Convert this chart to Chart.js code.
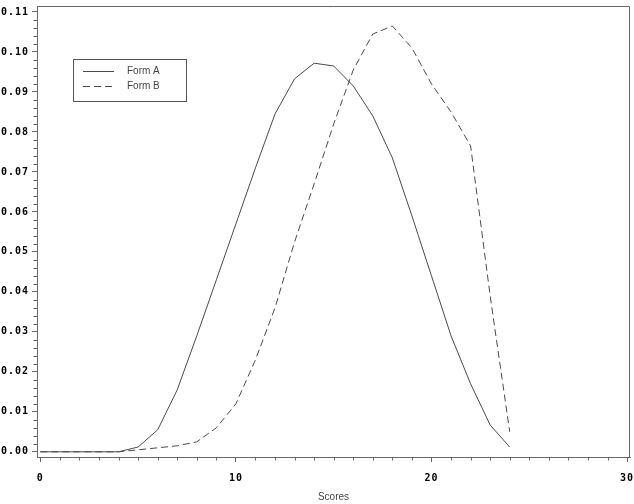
<!DOCTYPE html>
<html>
<head>
<meta charset="utf-8">
<script src="https://cdn.jsdelivr.net/npm/chart.js@4.4.0/dist/chart.umd.min.js"></script>
<style>
html,body{margin:0;padding:0;background:#fff;}
#wrap{width:634px;height:504px;}
</style>
</head>
<body>
<div id="wrap"><canvas id="c" width="634" height="504"></canvas></div>
<script>
const scores = [0,1,2,3,4,5,6,7,8,9,10,11,12,13,14,15,16,17,18,19,20,21,22,23,24];
const formA = [0,0,0,0,0,0.0012,0.0055,0.0155,0.029,0.043,0.057,0.071,0.0845,0.0933,0.0972,0.0965,0.0915,0.084,0.0735,0.059,0.044,0.029,0.017,0.0067,0.0012];
const formB = [0,0,0,0,0,0.0005,0.001,0.0015,0.0025,0.006,0.012,0.023,0.036,0.0525,0.067,0.082,0.0955,0.1045,0.1065,0.101,0.092,0.085,0.0765,0.039,0.005];
const xTickLabels = [0,10,20,30];
const yTickLabels = [0,0.01,0.02,0.03,0.04,0.05,0.06,0.07,0.08,0.09,0.10,0.11];
const seriesLabels = ['Form A','Form B'];

const axisColor = '#666';
const lineColor = '#4a4a4a';
const tickFont = {family:'DejaVu Sans Mono', size:10, weight:'bold'};

const spacingPlugin = {
  id:'spacing',
  beforeDraw(chart){
    Object.values(chart.scales).forEach(s=>{
      if(!s._wrapped){
        const orig = s.drawLabels;
        s.drawLabels = function(a){
          const ctx = this.ctx;
          const prev = ctx.letterSpacing;
          ctx.letterSpacing = '1px';
          orig.call(this,a);
          ctx.letterSpacing = prev || '0px';
        };
        s._wrapped = true;
      }
    });
  }
};

const framePlugin = {
  id:'frame',
  afterDraw(chart){
    const ctx = chart.ctx, a = chart.chartArea;
    ctx.save();
    ctx.strokeStyle = axisColor;
    ctx.lineWidth = 1;
    ctx.beginPath();
    ctx.moveTo(a.left, a.top+0.5);
    ctx.lineTo(a.right-0.5, a.top+0.5);
    ctx.lineTo(a.right-0.5, a.bottom);
    ctx.stroke();
    const xs = chart.scales.x, ys = chart.scales.y;
    ctx.beginPath();
    for(let i=0;i<=30;i++){
      if(i%10===0) continue;
      const px = Math.round(xs.getPixelForValue(i))+0.5;
      ctx.moveTo(px, a.bottom);
      ctx.lineTo(px, a.bottom+3.5);
    }
    for(let i=0;i<=55;i++){
      if(i%5===0) continue;
      const py = Math.round(ys.getPixelForValue(i*0.002))+0.5;
      ctx.moveTo(a.left, py);
      ctx.lineTo(a.left-3.5, py);
    }
    ctx.stroke();
    const bx=73, by=59, bw=113, bh=42;
    ctx.strokeStyle = '#555';
    ctx.strokeRect(bx+0.5, by+0.5, bw, bh);
    chart.data.datasets.forEach((ds,i)=>{
      const y = by + 12 + i*15 + 0.5;
      ctx.strokeStyle = ds.borderColor;
      ctx.setLineDash(ds.borderDash || []);
      ctx.beginPath();
      ctx.moveTo(bx+10, y);
      ctx.lineTo(bx+41, y);
      ctx.stroke();
      ctx.setLineDash([]);
      ctx.fillStyle = '#444';
      ctx.font = '10px "Liberation Sans", Arial, sans-serif';
      ctx.textBaseline = 'middle';
      ctx.textAlign = 'left';
      ctx.fillText(ds.label, bx+54, y);
    });
    ctx.restore();
  }
};

new Chart(document.getElementById('c'), {
  type:'line',
  data:{
    datasets:[
      {label:seriesLabels[0], data:scores.map((x,i)=>({x:x,y:formA[i]})), borderColor:lineColor, borderWidth:1, pointRadius:0, tension:0, fill:false},
      {label:seriesLabels[1], data:scores.map((x,i)=>({x:x,y:formB[i]})), borderColor:lineColor, borderWidth:1, borderDash:[7,4], pointRadius:0, tension:0, fill:false}
    ]
  },
  options:{
    responsive:false,
    animation:false,
    devicePixelRatio:1,
    layout:{padding:{top:6,right:4,left:0,bottom:0}},
    plugins:{legend:{display:false},tooltip:{enabled:false}},
    scales:{
      x:{
        type:'linear', min:-0.17, max:30.15,
        afterBuildTicks(s){ s.ticks = xTickLabels.map(v=>({value:v})); },
        afterFit(s){ s.height = 47; s.paddingLeft = 0; s.paddingRight = 0; },
        ticks:{font:tickFont, color:'#000', padding:10, maxRotation:0, autoSkip:false, callback:v=>String(v)},
        grid:{drawOnChartArea:false, tickLength:5, color:axisColor},
        border:{color:axisColor},
        title:{display:true, text:'Scores', color:'#444', font:{family:'Liberation Sans', size:10}, padding:{top:4,bottom:1}}
      },
      y:{
        type:'linear', min:-0.0013, max:0.1115,
        afterBuildTicks(s){ s.ticks = yTickLabels.map(v=>({value:v})); },
        afterFit(s){ s.width = 37; s.paddingTop = 0; s.paddingBottom = 0; },
        ticks:{font:tickFont, color:'#000', padding:3, callback:v=>Number(v).toFixed(2)},
        grid:{drawOnChartArea:false, tickLength:5, color:axisColor},
        border:{color:axisColor}
      }
    }
  },
  plugins:[spacingPlugin, framePlugin]
});
</script>
</body>
</html>
